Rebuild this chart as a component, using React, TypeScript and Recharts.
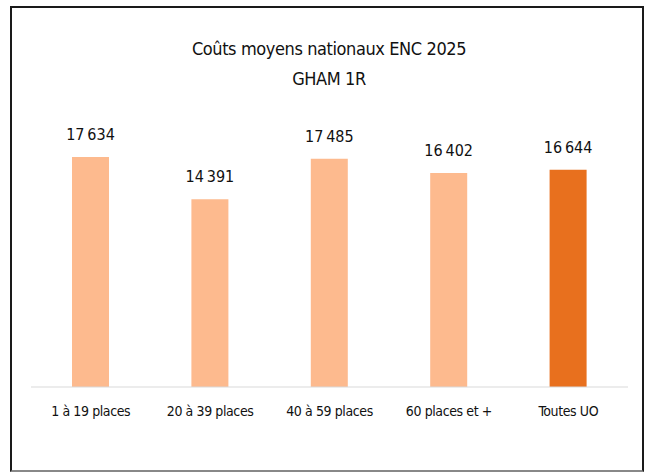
import { BarChart, Bar, XAxis, YAxis, Cell, LabelList } from "recharts";

const categories = ["1 à 19 places", "20 à 39 places", "40 à 59 places", "60 places et +", "Toutes UO"];
const costs = [17634, 14391, 17485, 16402, 16644];
const isTotal = [false, false, false, false, true];

const data = categories.map((name, i) => ({ name, value: costs[i], total: isTotal[i] }));

const FONT = "'DejaVu Sans Condensed', 'Liberation Sans', sans-serif";

const fmt = (v: any) => String(v).replace(/\B(?=(\d{3})+(?!\d))/g, "\u202f");

export default function App() {
  return (
    <div style={{ position: "absolute", left: 0, top: 0, width: 647, height: 474, background: "#fff", fontFamily: FONT }}>
      <div style={{ position: "absolute", left: 10, top: 6, width: 630, height: 462, border: "2px solid #1a1a1a", borderBottomColor: "#888" }} />
      <div style={{ position: "absolute", left: 0, top: 34, width: 658, textAlign: "center", fontSize: 18, letterSpacing: -0.4, lineHeight: "30px", color: "#111" }}>
        Coûts moyens nationaux ENC 2025
        <br />
        GHAM 1R
      </div>
      <div style={{ position: "absolute", left: 0, top: 0 }}>
        <BarChart width={647} height={474} data={data} margin={{ top: 126, right: 19, bottom: 57, left: 31 }} barSize={37}>
          <XAxis
            dataKey="name"
            axisLine={{ stroke: "#d9d9d9" }}
            tickLine={false}
            tickMargin={13}
            height={30}
            interval={0}
            tick={{ fill: "#111", fontSize: 14, fontFamily: FONT, letterSpacing: -0.4 }}
          />
          <YAxis hide domain={[0, 20000]} />
          <Bar dataKey="value" isAnimationActive={false}>
            {data.map((d, i) => (
              <Cell key={i} fill={d.total ? "#E8701E" : "#FDBA8E"} />
            ))}
            <LabelList dataKey="value" position="top" offset={17} formatter={fmt} fill="#111" fontSize={16} fontFamily={FONT} letterSpacing={-0.3} />
          </Bar>
        </BarChart>
      </div>
    </div>
  );
}
